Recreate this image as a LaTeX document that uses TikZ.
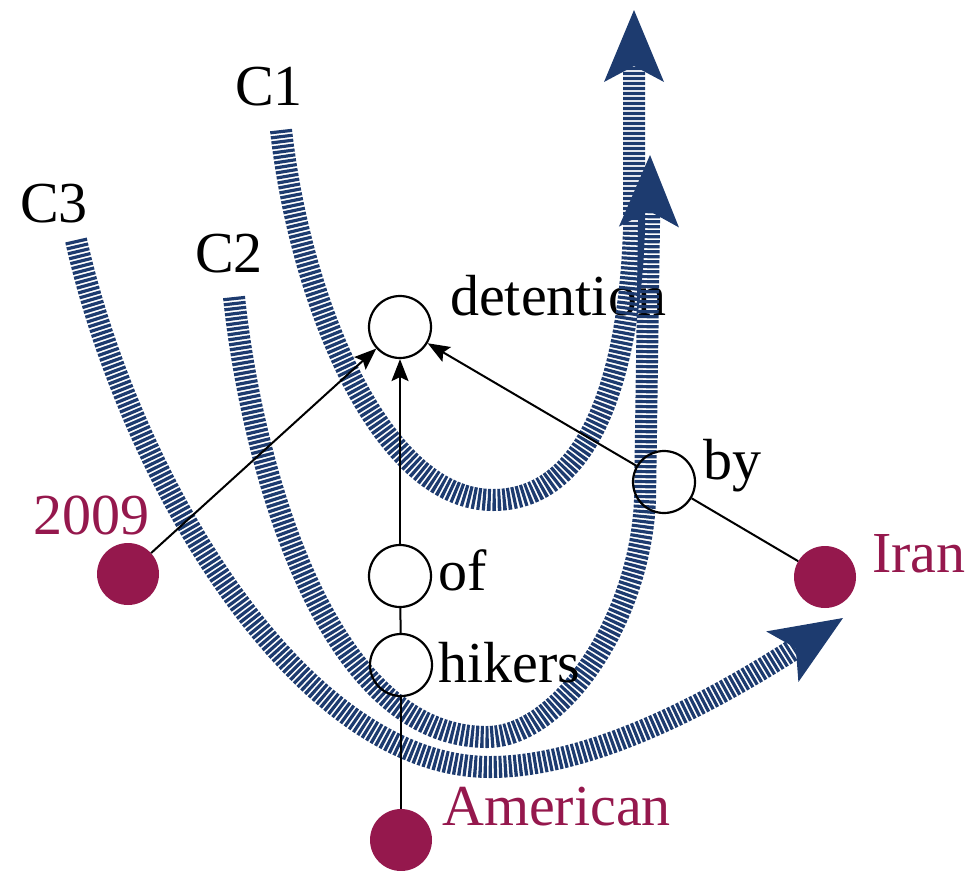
\documentclass[tikz,border=0pt]{standalone}
\usepackage{fontspec}
\setmainfont{Liberation Serif}
\newfontfamily\timesfont{Liberation Serif}
\usetikzlibrary{arrows.meta}
\definecolor{maroon}{HTML}{95184D}
\definecolor{cblue}{HTML}{1D3B6F}
\tikzset{
  cstroke/.style={draw=cblue, line width=22pt, dash pattern=on 3.2pt off 1.8pt, line cap=butt,
    -{Stealth[length=72pt,width=60pt,inset=16pt,line width=0pt]}},
  cnode/.style={circle, draw=black, line width=2.2pt, minimum size=62pt, inner sep=0pt},
  dot/.style={circle, fill=maroon, minimum size=62pt, inner sep=0pt},
  lbl/.style={anchor=base west, inner sep=0pt, font=\timesfont\fontsize{58}{60}\selectfont},
  edge/.style={draw=black, line width=2pt},
  aedge/.style={edge, -{Stealth[length=22pt,width=17pt,inset=4pt]}}
}
\begin{document}
\begin{tikzpicture}[x=1pt,y=-1pt]
\useasboundingbox (0,0) rectangle (976,870);
% label drawn beneath the stripes
\node[lbl] (tdet) at (450,315) {detention};
% striped paths
\draw[cstroke] (281,130) .. controls (300,300) and (380,500) .. (493,500)
  .. controls (600,500) and (630,350) .. (634,230) -- (634,10);
\draw[cstroke] (234,297) .. controls (250,450) and (320,737) .. (487,737)
  .. controls (560,737) and (640,620) .. (645,500) -- (650,155);
\draw[cstroke] (76,240) .. controls (130,480) and (300,767) .. (490,767)
  .. controls (600,767) and (730,690) .. (843,618);
% curve labels
\node[lbl] (tc1) at (235,105) {C1};
\node[lbl] (tc2) at (195,272) {C2};
\node[lbl] (tc3) at (20,222) {C3};
% graph nodes
\node[cnode] (det) at (400,327) {};
\node[cnode] (of) at (400,576) {};
\node[cnode] (hik) at (401,665) {};
\node[cnode] (by) at (664,482) {};
\node[dot] (y09) at (128,574) {};
\node[dot] (iran) at (825,577) {};
\node[dot] (amer) at (401,840) {};
% edges
\draw[aedge] (y09) -- (det);
\draw[aedge] (of) -- (det);
\draw[aedge] (by) -- (det);
\draw[edge] (by) -- (iran);
\draw[edge] (of) -- (hik);
\draw[edge] (hik) -- (amer);
% labels
\node[lbl] (tof) at (438,590) {of};
\node[lbl] (thik) at (438,682) {hikers};
\node[lbl] (tby) at (703,479) {by};
\node[lbl, text=maroon] (tiran) at (872,572) {Iran};
\node[lbl, text=maroon] (tamer) at (442,825) {American};
\node[lbl, text=maroon] (t09) at (33,534) {2009};
\end{tikzpicture}
\end{document}
